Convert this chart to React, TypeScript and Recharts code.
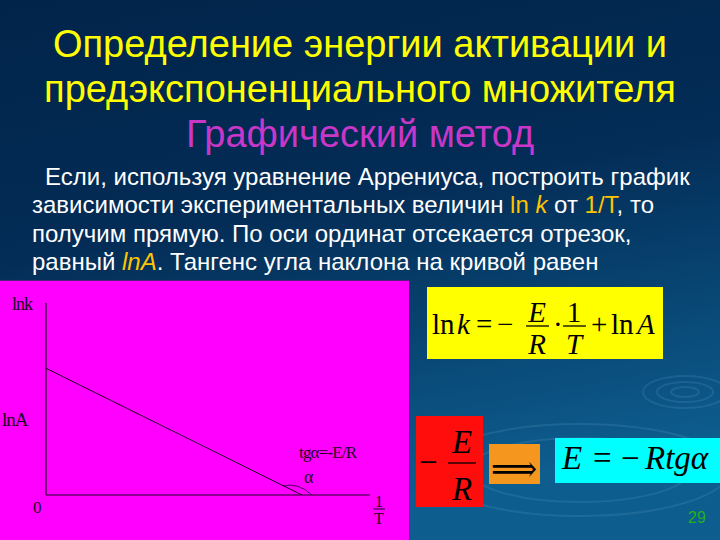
import React from 'react';
import { LineChart, Line, XAxis, YAxis, ReferenceDot } from 'recharts';

// ---- data (reciprocal temperature vs ln k) ----
const invT = [0, 0.79];
const lnK = [0.66, 0];
const chartData = invT.map((x, i) => ({ x, lnk: lnK[i] }));

// ---- slide texts ----
const titleLines = ['Определение энергии активации и', 'предэкспоненциального множителя'];
const subtitle = 'Графический метод';
type Seg = { t: string; hl?: boolean; it?: boolean };
const bodyLines: Seg[][] = [
  [{ t: 'Если, используя уравнение Аррениуса, построить график' }],
  [
    { t: 'зависимости экспериментальных величин ' },
    { t: 'ln ', hl: true },
    { t: 'k', hl: true, it: true },
    { t: ' от ' },
    { t: '1/T', hl: true },
    { t: ', то' },
  ],
  [{ t: 'получим прямую. По оси ординат отсекается отрезок,' }],
  [
    { t: 'равный ' },
    { t: 'lnA', hl: true, it: true },
    { t: '. Тангенс угла наклона на кривой равен' },
  ],
];
const bodyX = [45, 32, 32, 32];
const bodyY = [185, 213, 242, 270];

const SERIF = '"Liberation Serif", "Times New Roman", serif';
const SANS = '"Liberation Sans", Arial, sans-serif';
const INK = '#1c0424';

function textLabel(text: string, dx: number, dy: number, size: number, extra: any = {}) {
  return (props: any) => {
    const vb = props.viewBox || {};
    const x = (vb.x ?? 0) + (vb.width ?? 0) / 2;
    const y = (vb.y ?? 0) + (vb.height ?? 0) / 2;
    return (
      <text x={x + dx} y={y + dy} fontFamily={SERIF} fontSize={size} fill={INK} {...extra}>
        {text}
      </text>
    );
  };
}

function fracLabel(props: any) {
  const vb = props.viewBox || {};
  const x = (vb.x ?? 0) + (vb.width ?? 0) / 2 + 9;
  const y = (vb.y ?? 0) + (vb.height ?? 0) / 2;
  return (
    <g>
      <text x={x} y={y + 12} fontFamily={SERIF} fontSize={16} fill={INK} textAnchor="middle">1</text>
      <line x1={x - 6} x2={x + 6} y1={y + 14} y2={y + 14} stroke={INK} strokeWidth={1} />
      <text x={x} y={y + 29} fontFamily={SERIF} fontSize={16} fill={INK} textAnchor="middle">T</text>
    </g>
  );
}

function angleArc(p: any) {
  const cx = p.cx;
  const cy = p.cy;
  return (
    <path
      d={`M ${cx - 19} ${cy - 9} Q ${cx - 4} ${cy - 13} ${cx + 10} ${cy}`}
      fill="none"
      stroke={INK}
      strokeWidth={0.8}
    />
  );
}

function Chart() {
  return (
    <LineChart
      width={409}
      height={260}
      data={chartData}
      margin={{ top: 23, right: 39, bottom: 44, left: 45 }}
    >
      <XAxis
        dataKey="x"
        type="number"
        domain={[0, 1]}
        tick={false}
        tickLine={false}
        height={1}
        axisLine={{ stroke: INK, strokeWidth: 1.2 }}
      />
      <YAxis
        type="number"
        domain={[0, 1]}
        tick={false}
        tickLine={false}
        width={1}
        axisLine={{ stroke: INK, strokeWidth: 1.2 }}
      />
      <Line
        type="linear"
        dataKey="lnk"
        stroke={INK}
        strokeWidth={1}
        dot={false}
        isAnimationActive={false}
      />
      <ReferenceDot x={0} y={1} r={0} fill="none" stroke="none" label={textLabel('lnk', -34, 7, 18, { letterSpacing: -1 })} />
      <ReferenceDot x={0} y={0} r={0} fill="none" stroke="none" label={textLabel('lnA', -44, -69, 19, { letterSpacing: -1 })} />
      <ReferenceDot x={0} y={0} r={0} fill="none" stroke="none" label={textLabel('0', -13, 18, 17)} />
      <ReferenceDot x={1} y={0} r={0} fill="none" stroke="none" label={fracLabel} />
      <ReferenceDot x={invT[1]} y={0} r={0} fill="none" stroke="none" shape={angleArc} />
      <ReferenceDot x={invT[1]} y={0} r={0} fill="none" stroke="none" label={textLabel('tgα=-E/R', -3, -37, 17, { letterSpacing: -0.8 })} />
      <ReferenceDot x={invT[1]} y={0} r={0} fill="none" stroke="none" label={textLabel('α', 2, -12, 18)} />
    </LineChart>
  );
}

function Slide() {
  const it = { fontStyle: 'italic' as const };
  return (
    <svg width={720} height={540} style={{ position: 'absolute', left: 0, top: 0 }}>
      <defs>
        <linearGradient id="bg" x1="0" y1="0" x2="0.25" y2="1">
          <stop offset="0" stopColor="#01244a" />
          <stop offset="0.45" stopColor="#032c56" />
          <stop offset="1" stopColor="#0d5d8e" />
        </linearGradient>
      </defs>
      <rect x={0} y={0} width={720} height={540} fill="url(#bg)" />
      {/* faint ripples */}
      <g fill="none" stroke="rgba(150,200,240,0.13)" strokeWidth={2}>
        <ellipse cx={685} cy={392} rx={42} ry={16} />
        <ellipse cx={685} cy={392} rx={28} ry={10} />
        <ellipse cx={685} cy={392} rx={14} ry={5} />
        <ellipse cx={580} cy={470} rx={150} ry={46} />
        <ellipse cx={580} cy={470} rx={110} ry={32} />
      </g>

      {/* title */}
      {titleLines.map((t, i) => (
        <text key={i} x={360} y={57 + i * 45} textAnchor="middle" fontFamily={SANS} fontSize={38} fill="#ffff00">
          {t}
        </text>
      ))}
      <text x={360} y={147} textAnchor="middle" fontFamily={SANS} fontSize={38} fill="#c837c8">
        {subtitle}
      </text>

      {/* body */}
      {bodyLines.map((segs, i) => (
        <text key={i} x={bodyX[i]} y={bodyY[i]} fontFamily={SANS} fontSize={24} fill="#ffffff" style={{ whiteSpace: 'pre' }}>
          {segs.map((s, j) => (
            <tspan key={j} fill={s.hl ? '#ffc400' : '#ffffff'} fontStyle={s.it ? 'italic' : 'normal'}>
              {s.t}
            </tspan>
          ))}
        </text>
      ))}

      {/* yellow formula box */}
      <rect x={427} y={287} width={236} height={72} fill="#ffff00" />
      <g fontFamily={SERIF} fontSize={29} fill="#000">
        <text x={432} y={334}>ln</text>
        <text x={457} y={334} style={it}>k</text>
        <text x={476} y={334}>=</text>
        <text x={497} y={334}>−</text>
        <text x={537} y={322} textAnchor="middle" style={it}>E</text>
        <line x1={526} x2={549} y1={326} y2={326} stroke="#000" strokeWidth={1.3} />
        <text x={537} y={354} textAnchor="middle" style={it}>R</text>
        <text x={553} y={334}>·</text>
        <text x={574} y={322} textAnchor="middle">1</text>
        <line x1={563} x2={586} y1={326} y2={326} stroke="#000" strokeWidth={1.3} />
        <text x={574} y={354} textAnchor="middle" style={it}>T</text>
        <text x={591} y={334}>+</text>
        <text x={611} y={334}>ln</text>
        <text x={637} y={334} style={it}>A</text>
      </g>

      {/* red box */}
      <rect x={416} y={416} width={67} height={91} fill="#ff0d0d" />
      <g fontFamily={SERIF} fontSize={33} fill="#000">
        <text x={419} y={473}>−</text>
        <text x={462} y={453} textAnchor="middle" style={it}>E</text>
        <line x1={448} x2={476} y1={463} y2={463} stroke="#000" strokeWidth={1.3} />
        <text x={462} y={500} textAnchor="middle" style={it}>R</text>
      </g>

      {/* orange arrow box */}
      <rect x={489} y={444} width={51} height={40} fill="#f5961e" />
      <text x={514} y={481} textAnchor="middle" fontFamily='"DejaVu Serif", "DejaVu Sans", serif' fontSize={36} fill="#000" textLength={46} lengthAdjust="spacingAndGlyphs">
        ⟹
      </text>

      {/* cyan box */}
      <rect x={555} y={438} width={165} height={45} fill="#00ffff" />
      <g fontFamily={SERIF} fontSize={33} fill="#000">
        <text x={562} y={469} style={it}>E</text>
        <text x={593} y={469}>=</text>
        <text x={621} y={469}>−</text>
        <text x={645} y={469} style={it}>Rtgα</text>
      </g>

      {/* page number */}
      <text x={688} y={523} fontFamily={SANS} fontSize={16} fill="#22b022">29</text>
    </svg>
  );
}

export default function App() {
  return (
    <div style={{ position: 'absolute', left: 0, top: 0, width: 720, height: 540, overflow: 'hidden' }}>
      <Slide />
      <div style={{ position: 'absolute', left: 0, top: 280, width: 409, height: 260, background: '#ff00ff', borderTop: '1px solid #5a2080', boxSizing: 'border-box' }}>
        <div style={{ position: 'absolute', left: 0, top: -1 }}>
          <Chart />
        </div>
      </div>
    </div>
  );
}
